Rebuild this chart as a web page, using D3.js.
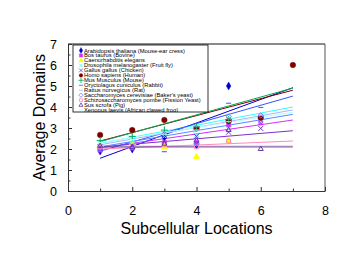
<!DOCTYPE html>
<html>
<head>
<meta charset="utf-8">
<script src="https://cdn.jsdelivr.net/npm/d3@7"></script>
<style>
  body { margin: 0; background: #fff; }
  text { font-family: "Liberation Sans", Arial, Helvetica, sans-serif; }
</style>
</head>
<body>
<div id="chart"></div>
<script>
// species shown in the legend, in order
const species = [
  "Arabidopsis thaliana (Mouse-ear cress)",
  "Bos taurus (Bovine)",
  "Caenorhabditis elegans",
  "Drosophila melanogaster (Fruit fly)",
  "Gallus gallus (Chicken)",
  "Homo sapiens (Human)",
  "Mus Musculus (Mouse)",
  "Oryctolagus cuniculus (Rabbit)",
  "Rattus norvegicus (Rat)",
  "Saccharomyces cerevisiae (Baker's yeast)",
  "Schizosaccharomyces pombe (Fission Yeast)",
  "Sus scrofa (Pig)",
  "Xenopus laevis (African clawed frog)"
];

// subcellular locations (x) and average domains (y), one array per species
const locations = [1, 2, 3, 4, 5, 6, 7];
const arabidopsis = [1.9, 2.0, 2.55, 2.2, 5.0];
const bosTaurus = [1.95, 2.05, 2.3, 2.3, 3.15, 3.25];
const elegans = [2.2, 2.3, 2.1, 1.63, 2.4];
const drosophila = [2.3, 2.4, 2.6, 2.67, 2.95, 3.3];
const gallus = [2.1, 2.15, 2.4, 2.6, 2.8, 2.98];
const homo = [2.67, 2.9, 3.38, 2.98, 3.33, 3.49, 6.0];
const mus = [2.4, 2.6, 2.9, 3.05, 3.4];
const rabbit = [1.95, 2.1, 1.87, 2.9, 4.18, 3.98];
const rat = [2.2, 2.35, 2.8, 3.1, 3.5, 3.6];
const cerevisiae = [2.05, 2.1, 2.7, 2.25, 3.54, 3.6];
const pombe = [2.1, 2.15, 2.2, 2.1, 2.38];
const susScrofa = [2.15, 2.1, 2.25, 2.4, 2.9, 2.0];
const xenopus = [2.3, 2.45, 2.7, 2.9, 3.3];
const seriesValues = [arabidopsis, bosTaurus, elegans, drosophila, gallus, homo, mus,
  rabbit, rat, cerevisiae, pombe, susScrofa, xenopus];

// linear fit: value at location 1 and at location 7
const fitStart = [1.56, 2.05, 2.15, 2.27, 2.1, 2.38, 2.35, 1.9, 2.2, 2.1, 2.0, 2.1, 2.3];
const fitEnd = [4.92, 3.38, 2.16, 4.0, 2.87, 4.8, 4.9, 4.52, 3.86, 3.65, 2.38, 2.1, 3.75];

const xTicks = [0, 2, 4, 6, 8];
const yTicks = [0, 1, 2, 3, 4, 5, 6, 7];

const colors = ["#0000cc", "#cc33ff", "#ffff00", "#33ffff", "#7733cc", "#800000", "#00aa55",
  "#3355ff", "#b0b0ff", "#5588ff", "#ff88bb", "#6633aa", "#b0ffff"];

const dash = { draw(ctx, size) { const w = Math.sqrt(size) * 0.6; ctx.moveTo(-w, 0); ctx.lineTo(w, 0); } };
const shapes = [d3.symbolDiamond, d3.symbolSquare, d3.symbolTriangle, d3.symbolTimes, d3.symbolTimes,
  d3.symbolCircle, d3.symbolPlus, dash, dash, d3.symbolDiamond2, d3.symbolSquare2, d3.symbolTriangle2, dash];
const filled = [true, true, true, false, false, true, false, false, false, false, false, false, false];

const W = 358, H = 277;
const margin = { top: 44, right: 33, bottom: 86, left: 68 };

const svg = d3.select("#chart").append("svg")
  .attr("width", W)
  .attr("height", H);

const xScale = d3.scaleLinear().domain([0, 8]).range([margin.left, W - margin.right]);
const yScale = d3.scaleLinear().domain([0, 7]).range([H - margin.bottom, margin.top]);

// frame
svg.append("line")
  .attr("x1", xScale(0)).attr("x2", xScale(8))
  .attr("y1", yScale(7)).attr("y2", yScale(7))
  .attr("stroke", "#8a8a8a").attr("stroke-width", 2);
svg.append("line")
  .attr("x1", xScale(8)).attr("x2", xScale(8))
  .attr("y1", yScale(7)).attr("y2", yScale(0))
  .attr("stroke", "#555").attr("stroke-width", 1);

// minor ticks
svg.append("g")
  .attr("transform", `translate(0,${yScale(0)})`)
  .call(d3.axisBottom(xScale).tickValues([1, 3, 5, 7]).tickSize(-2.5).tickFormat(""))
  .call(g => g.select(".domain").remove());
svg.append("g")
  .attr("transform", `translate(${xScale(0)},0)`)
  .call(d3.axisLeft(yScale).tickValues(d3.range(0.5, 7, 1)).tickSize(-2.5).tickFormat(""))
  .call(g => g.select(".domain").remove());

// main axes
const xAxis = svg.append("g")
  .attr("transform", `translate(0,${yScale(0)})`)
  .call(d3.axisBottom(xScale).tickValues(xTicks).tickFormat(d3.format("d"))
    .tickSize(-4).tickPadding(15).tickSizeOuter(0));
const yAxis = svg.append("g")
  .attr("transform", `translate(${xScale(0)},0)`)
  .call(d3.axisLeft(yScale).tickValues(yTicks).tickFormat(d3.format("d"))
    .tickSize(-4).tickPadding(11).tickSizeOuter(0));
[xAxis, yAxis].forEach(a => {
  a.selectAll("text").attr("font-size", 12.5).attr("fill", "#000")
    .style("font-family", '"Liberation Sans", Arial, sans-serif');
  a.select(".domain").attr("stroke", "#333");
});
svg.selectAll(".tick line").attr("stroke", "#333");

// fit lines
svg.append("g").selectAll("line")
  .data(species)
  .enter()
  .append("line")
  .attr("x1", xScale(1))
  .attr("x2", xScale(7))
  .attr("y1", (d, i) => yScale(fitStart[i]))
  .attr("y2", (d, i) => yScale(fitEnd[i]))
  .attr("stroke", (d, i) => colors[i])
  .attr("stroke-width", 1);

// points
const points = [];
seriesValues.forEach((vals, i) => vals.forEach((v, j) => points.push({ s: i, x: locations[j], y: v })));

svg.append("g").selectAll("path")
  .data(points)
  .enter()
  .append("path")
  .attr("transform", d => `translate(${xScale(d.x)},${yScale(d.y)})`)
  .attr("d", d => d3.symbol().type(shapes[d.s]).size(shapes[d.s] === d3.symbolCircle ? 24 : 18)())
  .attr("fill", d => filled[d.s] ? colors[d.s] : "none")
  .attr("stroke", d => colors[d.s])
  .attr("stroke-width", d => filled[d.s] ? 0.5 : 1);

// legend
const legend = svg.append("g").attr("transform", "translate(73,45)");
legend.append("rect")
  .attr("x", 0).attr("y", 0)
  .attr("width", 135).attr("height", 67)
  .attr("fill", "#fff")
  .attr("stroke", "#000")
  .attr("stroke-width", 0.8);

svg.append("clipPath").attr("id", "legclip")
  .append("rect").attr("x", 0).attr("y", 0).attr("width", 135).attr("height", 67);

const rows = legend.append("g").attr("clip-path", "url(#legclip)")
  .selectAll("g")
  .data(species)
  .enter()
  .append("g")
  .attr("transform", (d, i) => `translate(0,${5.5 + i * 4.97})`);

rows.append("path")
  .attr("transform", "translate(8,0)")
  .attr("d", (d, i) => d3.symbol().type(shapes[i]).size(11)())
  .attr("fill", (d, i) => filled[i] ? colors[i] : "none")
  .attr("stroke", (d, i) => colors[i])
  .attr("stroke-width", (d, i) => filled[i] ? 0.3 : 0.8);

rows.append("text")
  .attr("x", 11)
  .attr("y", 2)
  .attr("font-size", 5.8)
  .attr("fill", "#000")
  .text(d => d);

// axis titles
svg.append("text")
  .attr("x", xScale(4))
  .attr("y", 234)
  .attr("text-anchor", "middle")
  .attr("font-size", 16)
  .text("Subcellular Locations");

svg.append("text")
  .attr("transform", `translate(45,${yScale(3.5)}) rotate(-90)`)
  .attr("text-anchor", "middle")
  .attr("font-size", 16)
  .text("Average Domains");
</script>
</body>
</html>
